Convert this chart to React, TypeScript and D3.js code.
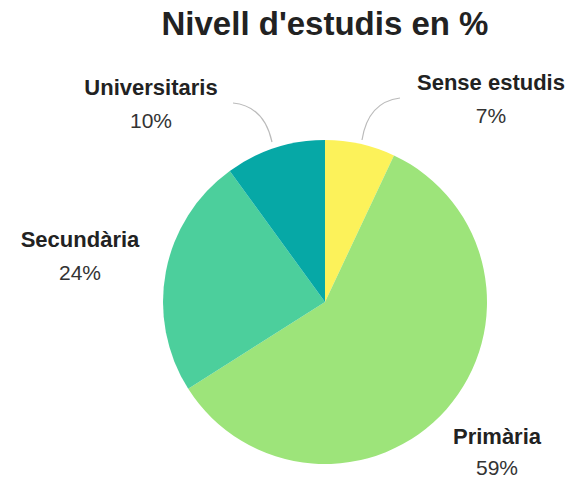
import React from "react";
import * as d3 from "d3";

const categories = ["Sense estudis", "Primària", "Secundària", "Universitaris"];
const values = [7, 59, 24, 10];
const colors = ["#fcf25a", "#9de47a", "#4ccf9c", "#06a8a6"];
const title = "Nivell d'estudis en %";

const W = 580;
const H = 480;
const cx = 325;
const cy = 302;
const R = 162;

// label positions (center x, baseline y of name, baseline y of percentage)
const labelPos: [number, number, number][] = [
  [491, 90, 123],
  [497, 444, 475],
  [80, 247, 280],
  [151, 95, 128],
];

export default function App() {
  const pie = d3.pie<number>().sort(null).value((d) => d)(values);
  const arc = d3.arc<d3.PieArcDatum<number>>().innerRadius(0).outerRadius(R);
  const font = "'Liberation Sans', Arial, sans-serif";
  return (
    <svg
      width={W}
      height={H}
      style={{ position: "absolute", left: 0, top: 0, background: "#fff" }}
      fontFamily={font}
    >
      <text x={325} y={35} textAnchor="middle" fontSize={33} fontWeight="bold" fill="#222">
        {title}
      </text>
      <g transform={`translate(${cx},${cy})`}>
        {pie.map((p, i) => (
          <path key={i} d={arc(p) || ""} fill={colors[i]} />
        ))}
      </g>
      <path d="M 272 142 Q 264 106 233 103" fill="none" stroke="#bbb" strokeWidth={1.2} />
      <path d="M 362 140 Q 368 102 400 98" fill="none" stroke="#bbb" strokeWidth={1.2} />
      {categories.map((c, i) => (
        <g key={c}>
          <text x={labelPos[i][0]} y={labelPos[i][1]} textAnchor="middle" fontSize={22} fontWeight="bold" fill="#222">
            {c}
          </text>
          <text x={labelPos[i][0]} y={labelPos[i][2]} textAnchor="middle" fontSize={21} fill="#333">
            {values[i]}%
          </text>
        </g>
      ))}
    </svg>
  );
}
